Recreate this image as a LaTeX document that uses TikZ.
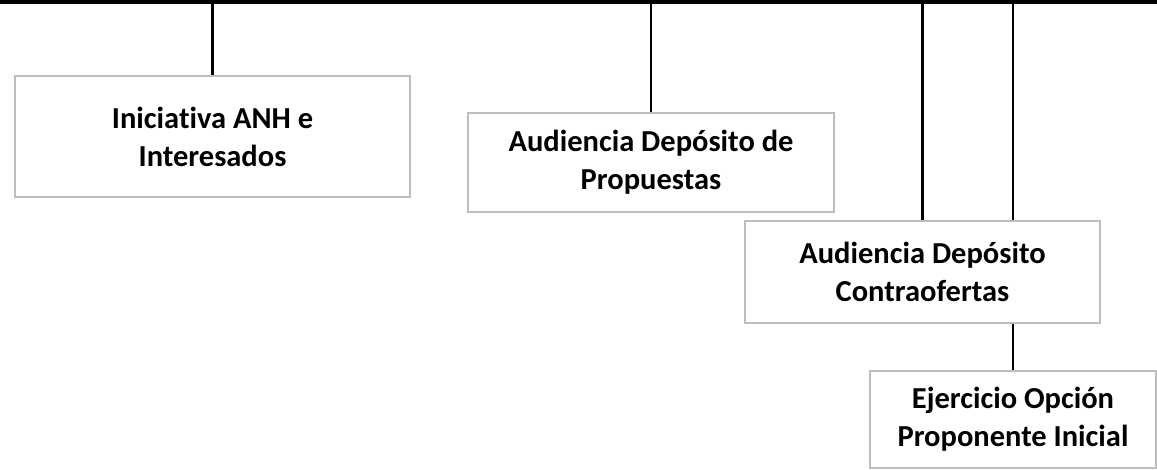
\documentclass[tikz,border=0pt]{standalone}
\usepackage{fontspec}
\setmainfont[Ligatures=NoCommon]{Carlito}
\usetikzlibrary{backgrounds}
\definecolor{boxgray}{RGB}{190,190,190}
\tikzset{
  stagebox/.style={draw=boxgray, line width=2pt, fill=white, inner sep=0pt,
    align=center, font=\fontsize{30.5}{38}\selectfont\bfseries},
  link/.style={draw=black, line width=2.4pt}
}
\begin{document}
\begin{tikzpicture}[x=1pt, y=-1pt]
\useasboundingbox (0,0) rectangle (1157,470);

\def\xa{212.5}
\def\xb{651}
\def\xc{922.5}
\def\xd{1013}

% top bar
\draw[line width=3.6pt] (0,1.8) -- (1157,1.8);

\coordinate (ta) at (\xa, 1.8);
\coordinate (tb) at (\xb, 1.8);
\coordinate (tc) at (\xc, 1.8);
\coordinate (td) at (\xd, 1.8);

\node[stagebox, minimum width=395pt, minimum height=121pt] (ini) at (\xa, 136.5) {Iniciativa ANH e\\Interesados};
\node[stagebox, minimum width=366pt, minimum height=99pt] (prop) at (\xb, 162.5) {Audiencia Depósito de\\Propuestas};
\node[stagebox, minimum width=355pt, minimum height=102pt] (contra) at (\xc, 272) {Audiencia Depósito\\Contraofertas};
\node[stagebox, minimum width=286pt, minimum height=97pt] (ejer) at (\xd, 419.5) {Ejercicio Opción\\Proponente Inicial};

\begin{scope}[on background layer]
\draw[link] (ta) -- (ini.north);
\draw[link] (tb) -- (prop.north);
\draw[link] (tc) -- (contra.north);
\draw[link] (td) -- (ejer.north);
\end{scope}

\end{tikzpicture}
\end{document}
